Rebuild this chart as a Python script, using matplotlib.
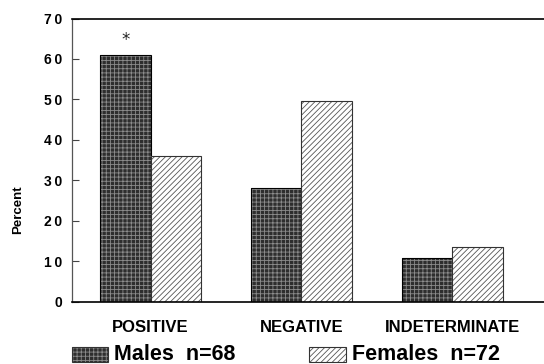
import matplotlib
matplotlib.use("Agg")
import matplotlib.pyplot as plt
from matplotlib.patches import Rectangle
import numpy as np

# Data
categories = ["POSITIVE", "NEGATIVE", "INDETERMINATE"]
males = [61, 28, 10.7]
females = [36, 49.7, 13.6]
male_label = "Males  n=68"
female_label = "Females  n=72"
y_ticks = [0, 10, 20, 30, 40, 50, 60, 70]

plt.rcParams["font.family"] = ["Liberation Sans", "DejaVu Sans"]
plt.rcParams["hatch.linewidth"] = 0.6

W, H = 544, 364
fig = plt.figure(figsize=(W / 100, H / 100), dpi=100)
ax = fig.add_axes([71.7 / W, 1 - 301.5 / H, 1 - 71.7 / W, (301.5 - 18.5) / H])

x = np.arange(len(categories))
bw = 0.335
male_face, male_hatch = "#2e2e2e", "#8c8c8c"
fem_face, fem_hatch = "white", "#555555"

ax.bar(x - bw / 2, males, bw, color=male_face, edgecolor=male_hatch, hatch="++++", linewidth=0)
ax.bar(x - bw / 2, males, bw, fill=False, edgecolor="black", linewidth=0.8)
ax.bar(x + bw / 2, females, bw, color=fem_face, edgecolor=fem_hatch, hatch="//////", linewidth=0)
ax.bar(x + bw / 2, females, bw, fill=False, edgecolor="#333333", linewidth=0.8)

# significance marker over males / positive
ax.text(x[0] - bw / 2, males[0] + 3.7, "*", ha="center", va="center", fontsize=12,
        fontfamily="DejaVu Sans", color="#222222")

ax.set_xlim(-0.524, 2.61)
ax.set_ylim(0, 70)
ax.set_yticks(y_ticks)
ax.set_yticklabels(["\u2009".join(str(t)) for t in y_ticks], fontsize=10, fontweight="bold")
ax.tick_params(axis="y", direction="in", length=5, width=0.8, pad=7, color="#444444")
ax.set_xticks(x)
ax.set_xticklabels(categories, fontsize=12, fontweight="bold")
ax.tick_params(axis="x", length=0, pad=13)

ax.spines["right"].set_visible(False)
ax.spines["left"].set_color("#555555")
ax.spines["left"].set_linewidth(0.9)
ax.spines["top"].set_linewidth(1.2)
ax.spines["bottom"].set_linewidth(1.2)

fig.text(18 / W, 1 - 209.5 / H, "Percent", rotation=90, ha="center", va="center",
         fontsize=9.5, fontweight="bold")

# legend drawn below the axes
def legend_item(x0, label, face, hatch_col, hatch):
    r = Rectangle((x0 / W, 1 - 361.5 / H), 36.5 / W, 15 / H, transform=fig.transFigure,
                  facecolor=face, edgecolor=hatch_col, hatch=hatch, linewidth=0)
    fig.add_artist(r)
    r2 = Rectangle((x0 / W, 1 - 361.5 / H), 36.5 / W, 15 / H, transform=fig.transFigure,
                   fill=False, edgecolor="#333333", linewidth=0.8)
    fig.add_artist(r2)
    fig.text((x0 + 42.5) / W, 1 - 354.5 / H, label, ha="left", va="center",
             fontsize=15.5, fontweight="bold")

legend_item(71.7, male_label, male_face, male_hatch, "++++")
legend_item(309, female_label, fem_face, fem_hatch, "//////")

fig.savefig("out.png", dpi=100)
